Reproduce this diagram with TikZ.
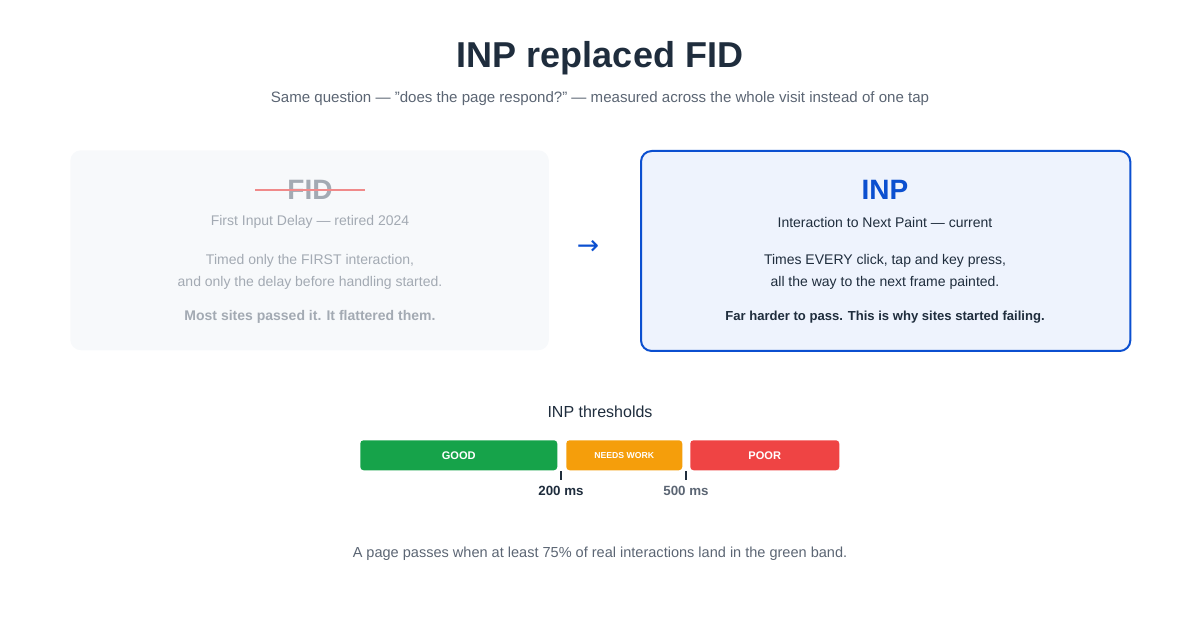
\documentclass[tikz,border=0pt]{standalone}
\usepackage{fontspec}
\setmainfont{Liberation Sans}
\newfontfamily\symfont{DejaVu Sans}
\usetikzlibrary{positioning}
\definecolor{ink}{HTML}{1F2D3D}
\definecolor{muted}{HTML}{5B6573}
\definecolor{faded}{HTML}{A3AAB3}
\definecolor{fadebg}{HTML}{F7F9FB}
\definecolor{inpblue}{HTML}{0B4FD0}
\definecolor{inpbg}{HTML}{EEF3FD}
\definecolor{goodc}{HTML}{16A34A}
\definecolor{workc}{HTML}{F59E0B}
\definecolor{poorc}{HTML}{EF4444}
\definecolor{strike}{HTML}{F08A8A}
\tikzstyle{card}=[rectangle, rounded corners=8pt, anchor=north west,
  minimum width=360pt, minimum height=150pt]
\tikzstyle{band}=[rectangle, rounded corners=2.5pt, anchor=north west,
  minimum height=22.5pt, inner sep=0pt, text=white, font=\bfseries]
\tikzstyle{txt}=[inner sep=0pt, align=center]
\tikzstyle{tick}=[thick, draw=ink]

\begin{document}
\begin{tikzpicture}[x=0.75pt, y=-0.75pt]
\useasboundingbox (0,0) rectangle (1200,620);

\node[txt, text=ink, font=\fontsize{27}{32}\selectfont\bfseries] (title) at (600,58) {INP replaced FID};
\node[txt, text=muted, font=\fontsize{11.3}{14}\selectfont] (subtitle) at (600,99)
  {Same question — "does the page respond?" — measured across the whole visit instead of one tap};

% old metric
\node[card, fill=fadebg, minimum width=359pt] (fidcard) at (70,150) {};
\node[txt, text=faded, font=\fontsize{21}{25}\selectfont\bfseries] (fid) at (310,190) {FID};
\draw[strike, line width=2pt] ([xshift=-24pt]fid.west) -- ([xshift=24pt]fid.east);
\node[txt, text=faded, font=\fontsize{10.5}{13}\selectfont] (fidname) at (310,222) {First Input Delay — retired 2024};
\node[txt, text=faded, font=\fontsize{10.5}{17}\selectfont] (fidbody) at (310,272)
  {Timed only the FIRST interaction,\\and only the delay before handling started.};
\node[txt, text=faded, font=\fontsize{10.5}{13}\selectfont\bfseries] (fidnote) at (310,317) {Most sites passed it. It flattered them.};

\node[txt, text=inpblue, font=\fontsize{20}{24}\selectfont\symfont] (arrow) at (588,247) {→};

% new metric
\node[card, fill=inpbg, draw=inpblue, line width=1.5pt, minimum width=367pt] (inpcard) at (640,150) {};
\node[txt, text=inpblue, font=\fontsize{21}{25}\selectfont\bfseries] (inp) at (885,190) {INP};
\node[txt, text=ink, font=\fontsize{10.5}{13}\selectfont] (inpname) at (885,222) {Interaction to Next Paint — current};
\node[txt, text=ink, font=\fontsize{10.5}{17}\selectfont] (inpbody) at (885,272)
  {Times EVERY click, tap and key press,\\all the way to the next frame painted.};
\node[txt, text=ink, font=\fontsize{9.8}{13}\selectfont\bfseries] (inpnote) at (885,317) {Far harder to pass. This is why sites started failing.};

% thresholds
\node[txt, text=ink, font=\fontsize{12}{14}\selectfont] (threshtitle) at (600,412) {INP thresholds};
\node[band, fill=goodc, minimum width=147.75pt, font=\fontsize{8.3}{10}\selectfont\bfseries] (good) at (360,440) {GOOD};
\node[band, fill=workc, minimum width=87pt, font=\fontsize{6.5}{8}\selectfont\bfseries] (work) at (566,440) {NEEDS WORK};
\node[band, fill=poorc, minimum width=111.75pt, font=\fontsize{8.3}{10}\selectfont\bfseries] (poor) at (690,440) {POOR};
\coordinate (t1) at (561,471);
\coordinate (t2) at (686,471);
\draw[tick] (t1) -- ++(0,9);
\draw[tick] (t2) -- ++(0,9);
\node[txt, text=ink, font=\fontsize{10}{12}\selectfont\bfseries] (ms200) at (561,491) {200 ms};
\node[txt, text=muted, font=\fontsize{10}{12}\selectfont\bfseries] (ms500) at (686,491) {500 ms};

\node[txt, text=muted, font=\fontsize{10.9}{13}\selectfont] (footer) at (600,554)
  {A page passes when at least 75\% of real interactions land in the green band.};
\end{tikzpicture}
\end{document}
